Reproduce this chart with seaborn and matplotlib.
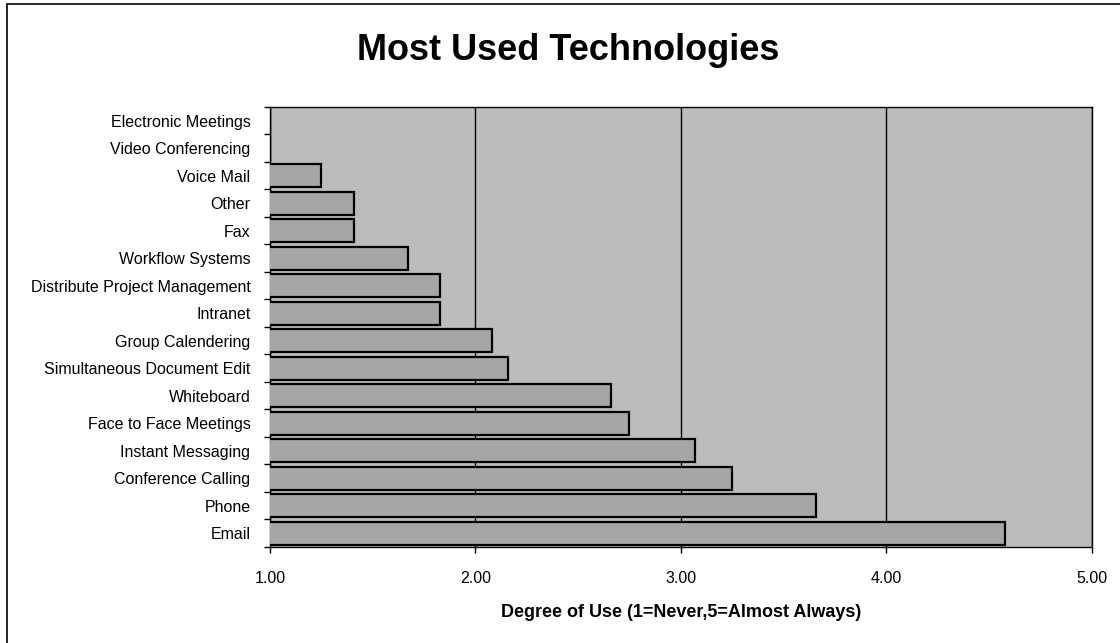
import numpy as np
import pandas as pd
import matplotlib.pyplot as plt
import seaborn as sns
from matplotlib.ticker import FixedLocator, FormatStrFormatter

# --- data (listed top to bottom) ---
technologies = [
    "Electronic Meetings", "Video Conferencing", "Voice Mail", "Other", "Fax",
    "Workflow Systems", "Distribute Project Management", "Intranet",
    "Group Calendering", "Simultaneous Document Edit", "Whiteboard",
    "Face to Face Meetings", "Instant Messaging", "Conference Calling",
    "Phone", "Email",
]
degree_of_use = [
    1.00, 1.00, 1.25, 1.41, 1.41,
    1.67, 1.83, 1.83,
    2.08, 2.16, 2.66,
    2.75, 3.07, 3.25,
    3.66, 4.58,
]
x_ticks = [1, 2, 3, 4, 5]

df = pd.DataFrame({"Technology": technologies, "Degree": degree_of_use})

sns.set_style("white")
plt.rcParams["font.family"] = ["Liberation Sans", "DejaVu Sans"]
plt.rcParams["text.color"] = "black"
plt.rcParams["axes.labelcolor"] = "black"
plt.rcParams["xtick.color"] = "black"
plt.rcParams["ytick.color"] = "black"

fig = plt.figure(figsize=(11.2, 6.43), dpi=100)
ax = fig.add_axes([0.241, 0.1493, 0.7336, 0.6843])
ax.set_facecolor("#bcbcbc")

sns.barplot(data=df, x="Degree", y="Technology", orient="h", order=technologies,
            color="#a6a6a6", edgecolor="black", linewidth=1.6, width=0.82,
            saturation=1, ax=ax, zorder=3)

ax.set_xlim(1, 5)
ax.set_ylim(len(technologies) - 0.5, -0.5)
ax.xaxis.set_major_locator(FixedLocator(x_ticks))
ax.xaxis.set_major_formatter(FormatStrFormatter("%.2f"))
ax.grid(axis="x", color="black", linewidth=1.0, zorder=1)
ax.set_axisbelow(True)

# category ticks sit between the bars, like the original
ax.yaxis.set_minor_locator(FixedLocator(np.arange(-0.5, len(technologies), 1)))
ax.tick_params(axis="y", which="major", length=0, pad=14, labelsize=11.5)
ax.tick_params(axis="y", which="minor", length=4, width=1, color="black", left=True)
ax.tick_params(axis="x", which="major", length=4, width=1, color="black",
               bottom=True, pad=13, labelsize=11.5)

for s in ax.spines.values():
    s.set_color("black")
    s.set_linewidth(1.0)

ax.set_ylabel("")
ax.set_xlabel("Degree of Use (1=Never,5=Almost Always)", fontsize=13,
              fontweight="bold", labelpad=13)

fig.text(0.507, 0.922, "Most Used Technologies", ha="center", va="center",
         fontsize=26, fontweight="bold")

# outer chart frame (left and top edges visible in the reference)
fig.add_artist(plt.Line2D([0.0065, 0.0065], [0, 0.994], color="black", linewidth=1.2,
                          transform=fig.transFigure))
fig.add_artist(plt.Line2D([0.0065, 1], [0.994, 0.994], color="black", linewidth=1.2,
                          transform=fig.transFigure))

fig.savefig("out.png", dpi=100)
